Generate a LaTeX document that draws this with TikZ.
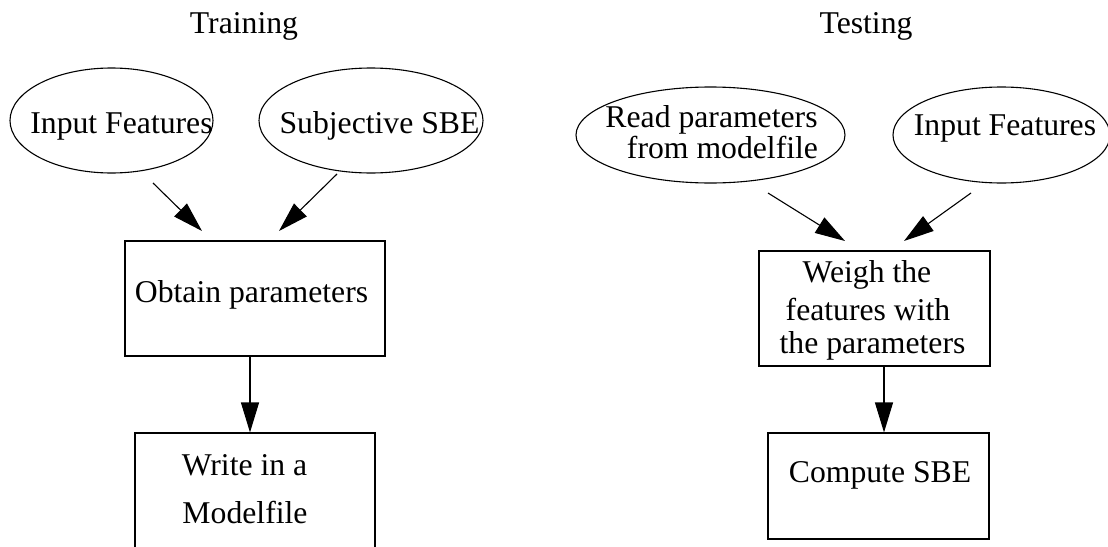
\documentclass[tikz,border=0pt]{standalone}
\usepackage{fontspec}
\setmainfont{Liberation Serif}
\usetikzlibrary{shapes.geometric,arrows.meta}

\tikzset{
  oval/.style={draw, ellipse, line width=1.1pt, inner sep=0pt},
  stepbox/.style={draw, rectangle, line width=1.1pt, inner sep=0pt},
  lbl/.style={anchor=base, inner sep=0pt, font=\fontsize{31.7}{36}\selectfont},
  arr/.style={line width=1.1pt, -{Triangle[length=30pt,width=18pt]}},
}

\begin{document}
\begin{tikzpicture}[x=1pt,y=1pt,yscale=-1]
        \useasboundingbox (0,0) rectangle (1108,546);
        \clip (0,0) rectangle (1108,546);

        \node [oval, minimum width=203pt, minimum height=105pt] (inL) at (111.5,120.5) {};
        \node [oval, minimum width=224pt, minimum height=105pt] (sbj) at (371,120.5) {};
        \node [stepbox, minimum width=260pt, minimum height=115pt] (obtain) at (255,298.5) {};
        \node [stepbox, minimum width=240pt, minimum height=120pt] (write) at (255,493) {};

        \node [oval, minimum width=269pt, minimum height=96pt] (rdp) at (710.5,135) {};
        \node [oval, minimum width=217pt, minimum height=96pt] (inR) at (1001.5,135) {};
        \node [stepbox, minimum width=231pt, minimum height=115pt] (weigh) at (874.5,308.5) {};
        \node [stepbox, minimum width=221pt, minimum height=106pt] (compute) at (878.5,486) {};

        \coordinate (a1s) at (153,183); \coordinate (a1e) at (202,231);
        \coordinate (a2s) at (337,174); \coordinate (a2e) at (279,231);
        \coordinate (a3s) at (768,193); \coordinate (a3e) at (845,241);
        \coordinate (a4s) at (971,193); \coordinate (a4e) at (904,241);

        \draw [arr] (a1s) -- (a1e);
        \draw [arr] (a2s) -- (a2e);
        \draw [arr] ([xshift=-5pt]obtain.south) -- ([xshift=-5pt]write.north);
        \draw [arr] (a3s) -- (a3e);
        \draw [arr] (a4s) -- (a4e);
        \draw [arr] ([xshift=9.5pt]weigh.south) -- ([xshift=5.5pt]compute.north);

        \node [lbl] (ttrain) at (244,33) {Training};
        \node [lbl] (ttest) at (866,33) {Testing};
        \node [lbl] (tinL) at (121.5,133) {Input Features};
        \node [lbl] (tsbj) at (379.5,133) {Subjective SBE};
        \node [lbl] (tobtain) at (251.5,302) {Obtain parameters};
        \node [lbl] (twrite1) at (244.5,475) {Write in a};
        \node [lbl] (twrite2) at (245,523) {Modelfile};
        \node [lbl] (trdp1) at (711.5,127) {Read parameters};
        \node [lbl] (trdp2) at (722.5,158) {from modelfile};
        \node [lbl] (tinR) at (1005,135) {Input Features};
        \node [lbl] (tweigh1) at (867,282) {Weigh the};
        \node [lbl] (tweigh2) at (868,320) {features with};
        \node [lbl] (tweigh3) at (872.5,353) {the parameters};
        \node [lbl] (tcompute) at (880,482) {Compute SBE};
\end{tikzpicture}
\end{document}
